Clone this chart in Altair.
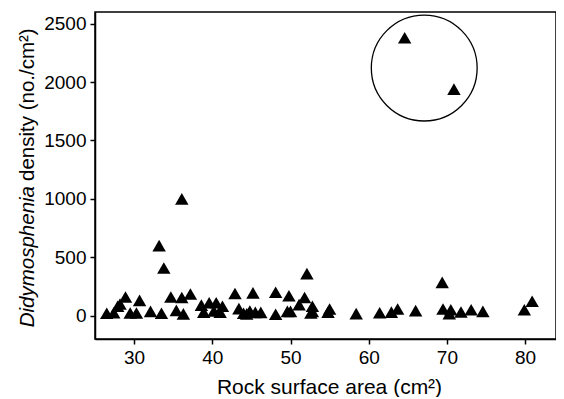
import altair as alt
import pandas as pd

area = [26.5, 27.4, 27.9, 28.2, 28.9, 29.5, 30.3, 30.7, 32.1, 33.2, 33.5, 33.8, 34.7, 35.4,
        36.1, 36.1, 36.3, 37.2, 38.6, 38.9, 39.6, 40.2, 40.5, 41.0, 41.3, 42.9, 43.4, 44.0,
        44.4, 44.8, 45.2, 45.5, 46.2, 48.1, 48.1, 49.6, 50.0, 49.8, 51.1, 51.8, 52.1, 52.6,
        52.8, 52.8, 54.8, 55.0, 58.4, 61.4, 62.9, 63.7, 64.6, 66.0, 69.4, 69.5, 70.3, 70.5,
        70.9, 71.8, 73.1, 74.6, 79.9, 80.9]
density = [20, 25, 80, 100, 160, 23, 23, 131, 37, 600, 20, 408, 160, 45,
           155, 1000, 15, 185, 90, 30, 110, 40, 110, 30, 80, 190, 60, 20,
           15, 40, 195, 28, 28, 200, 12, 37, 37, 170, 94, 155, 360, 23,
           80, 37, 30, 57, 17, 25, 30, 57, 2380, 43, 285, 57, 17, 51,
           1940, 31, 51, 37, 51, 123]

circle_x = [67.1]
circle_y = [2120]

x_ticks = [30, 40, 50, 60, 70, 80]
y_ticks = [0, 500, 1000, 1500, 2000, 2500]

FONT = "Liberation Sans"

df = pd.DataFrame({"area": area, "density": density})
cdf = pd.DataFrame({"cx": circle_x, "cy": circle_y})

xs = alt.Scale(domain=[25, 83.95], nice=False, zero=False)
ys = alt.Scale(domain=[-200, 2600], nice=False, zero=False)

xenc = alt.X("area:Q", scale=xs,
             axis=alt.Axis(values=x_ticks, format="d", title="Rock surface area (cm²)",
                           grid=False, titleY=54, titleBaseline="alphabetic",
                           titleX=234, titleAlign="center"))
yenc = alt.Y("density:Q", scale=ys,
             axis=alt.Axis(values=y_ticks, format="d", title=None, grid=False))

points = alt.Chart(df).mark_point(shape="triangle-up", filled=True, color="black",
                                  size=180, opacity=1).encode(x=xenc, y=yenc)

circle = alt.Chart(cdf).mark_point(shape="circle", filled=False, color="black",
                                   size=11200, strokeWidth=1.3, opacity=1).encode(
    x=alt.X("cx:Q", scale=xs), y=alt.Y("cy:Q", scale=ys))

t1 = alt.Chart(pd.DataFrame({"t": ["Didymosphenia"]})).mark_text(
    angle=270, align="right", baseline="middle", font=FONT, fontSize=20.5,
    fontStyle="italic", color="black").encode(
    text="t:N", x=alt.value(-67), y=alt.value(174))
t2 = alt.Chart(pd.DataFrame({"t": ["density (no./cm²)"]})).mark_text(
    angle=270, align="left", baseline="middle", font=FONT, fontSize=20.5,
    color="black").encode(
    text="t:N", x=alt.value(-67), y=alt.value(169))

chart = alt.layer(points, circle, t1, t2).properties(
    width=461, height=327,
    autosize=alt.AutoSizeParams(type="none"),
    padding={"left": 87, "top": 4, "right": 0, "bottom": 58},
).configure_view(stroke="black", strokeWidth=1.5).configure_axis(
    labelFont=FONT, titleFont=FONT, labelFontSize=19, titleFontSize=21,
    labelColor="black", titleColor="black", titleFontWeight="normal",
    domainColor="black", domainWidth=1.5, tickColor="black", tickWidth=1.5,
    tickSize=5, labelPadding=4,
)

chart.save("out.html", embed_options={"renderer": "svg", "actions": False})
